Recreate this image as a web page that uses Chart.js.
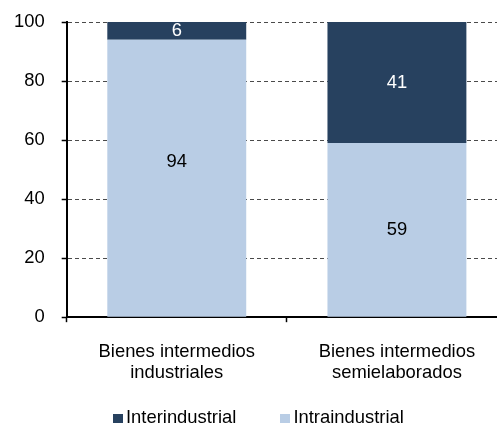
<!DOCTYPE html>
<html>
<head>
<meta charset="utf-8">
<script src="https://cdn.jsdelivr.net/npm/chart.js@4/dist/chart.umd.min.js"></script>
<style>
  html, body { margin: 0; padding: 0; background: #fff; overflow: hidden; }
  #wrap { position: relative; width: 497px; height: 423px; overflow: hidden; }
  #chart-box { position: absolute; left: -15px; top: -6.5px; width: 525px; height: 429.5px; }
  #legend {
    position: absolute; top: 408px; left: 113px; display: flex;
    font: 18.4px "Liberation Sans", Arial, sans-serif; line-height: 18px; color: #000;
  }
  .lg-item { display: flex; align-items: flex-end; margin-right: 44px; }
  .lg-box { width: 10px; height: 10px; margin-right: 3px; margin-bottom: 2px; }
</style>
</head>
<body>
<div id="wrap">
  <div id="chart-box"><canvas id="trade-chart"></canvas></div>
  <div id="legend"></div>
</div>
<script>
// --- Data ---
const categories = [['Bienes intermedios', 'industriales'], ['Bienes intermedios', 'semielaborados']];
const interValues = [6, 41];
const intraValues = [94, 59];
const yTicks = [0, 20, 40, 60, 80, 100];

const DARK = '#27415f';
const LIGHT = '#b9cde5';
const FONT = '"Liberation Sans", Arial, sans-serif';
const FSIZE = 18.4;

// values written inside the bars
const barLabels = {
    id: 'barLabels',
    afterDatasetsDraw(chart) {
        const c = chart.ctx;
        chart.data.datasets.forEach((ds, i) => {
            chart.getDatasetMeta(i).data.forEach((bar, j) => {
                const { x, y, base } = bar.getProps(['x', 'y', 'base'], true);
                const shift = ds.labelShift ? ds.labelShift[j] : 0;
                c.save();
                c.font = `${FSIZE}px ${FONT}`;
                c.fillStyle = ds.labelColor;
                c.textAlign = 'center';
                c.textBaseline = 'middle';
                c.fillText(String(ds.data[j]), x, (y + base) / 2 + shift);
                c.restore();
            });
        });
    }
};

const ctx = document.getElementById('trade-chart').getContext('2d');
const tradeChart = new Chart(ctx, {
    type: 'bar',
    data: {
        labels: categories,
        datasets: [
            { label: 'Intraindustrial', data: intraValues, backgroundColor: LIGHT,
              labelColor: '#000', labelShift: [-16, 0] },
            { label: 'Interindustrial', data: interValues, backgroundColor: DARK,
              labelColor: '#fff' }
        ]
    },
    options: {
        responsive: true,
        maintainAspectRatio: false,
        animation: false,
        barPercentage: 0.631,
        categoryPercentage: 1,
        layout: { padding: { top: 5.5, left: 12, right: 3, bottom: 21 } },
        plugins: { legend: { display: false }, tooltip: { enabled: false } },
        scales: {
            x: {
                stacked: true,
                border: { color: '#000', width: 2 },
                grid: { drawOnChartArea: false, tickLength: 5, tickColor: '#000', tickWidth: 1.5 },
                ticks: { color: '#000', padding: 19, font: { family: FONT, size: FSIZE, lineHeight: 1.15 } }
            },
            y: {
                stacked: true,
                min: 0,
                max: 100,
                afterBuildTicks: (axis) => { axis.ticks = yTicks.map(v => ({ value: v })); },
                border: { color: '#000', width: 2, dash: [4, 3] },
                grid: {
                    color: '#4a4a4a',
                    lineWidth: 1,
                    tickBorderDash: [],
                    tickLength: 5,
                    tickColor: '#000',
                    tickWidth: 1.5
                },
                ticks: { color: '#000', padding: 17, font: { family: FONT, size: FSIZE } }
            }
        }
    },
    plugins: [barLabels]
});

// --- Legend ---
document.getElementById('legend').innerHTML = [
    { name: 'Interindustrial', color: DARK },
    { name: 'Intraindustrial', color: LIGHT }
].map(l => `<div class="lg-item"><span class="lg-box" style="background:${l.color}"></span><span>${l.name}</span></div>`).join('');
</script>
</body>
</html>
